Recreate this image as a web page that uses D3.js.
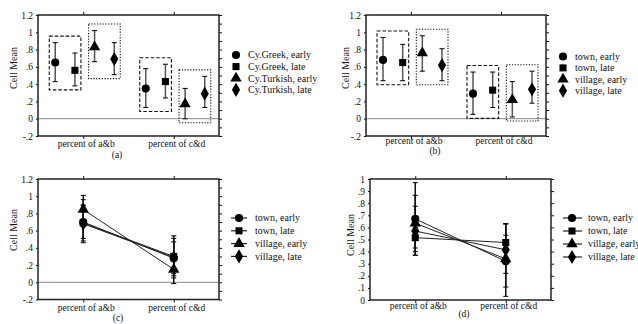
<!DOCTYPE html>
<html><head><meta charset="utf-8">
<script src="https://cdn.jsdelivr.net/npm/d3@7/dist/d3.min.js"></script>
<style>
html,body{margin:0;padding:0;background:#fff;}
svg{display:block;}
svg text{font-family:"Liberation Serif","Times New Roman","DejaVu Serif",serif;}
</style></head>
<body>
<svg id="chart" width="638" height="324"></svg>
<script>
// ---------- data ----------
const categories = ["percent of a&b", "percent of c&d"];
const seriesEthnic = ["Cy.Greek, early", "Cy.Greek, late", "Cy.Turkish, early", "Cy.Turkish, late"];
const seriesPlace = ["town, early", "town, late", "village, early", "village, late"];

// panel (a): means / lower / upper per series, [a&b, c&d]
const meanA = [[0.65, 0.35], [0.56, 0.43], [0.83, 0.17], [0.69, 0.29]];
const lowA  = [[0.43, 0.13], [0.38, 0.24], [0.66, 0.00], [0.51, 0.13]];
const highA = [[0.88, 0.58], [0.76, 0.63], [1.02, 0.35], [0.88, 0.49]];

// panel (b)
const meanB = [[0.68, 0.29], [0.65, 0.33], [0.76, 0.22], [0.62, 0.34]];
const lowB  = [[0.44, 0.05], [0.44, 0.13], [0.55, 0.02], [0.44, 0.18]];
const highB = [[0.94, 0.54], [0.86, 0.54], [0.96, 0.43], [0.81, 0.55]];

// panel (c)
const meanC = [[0.70, 0.28], [0.69, 0.30], [0.845, 0.15], [0.68, 0.29]];
const lowC  = [[0.48, 0.05], [0.51, 0.075], [0.68, -0.015], [0.46, 0.10]];
const highC = [[0.96, 0.54], [0.89, 0.51], [1.01, 0.32], [0.90, 0.47]];

// panel (d)
const meanD = [[0.67, 0.32], [0.515, 0.475], [0.635, 0.34], [0.57, 0.415]];
const lowD  = [[0.37, 0.03], [0.43, 0.32], [0.40, 0.107], [0.37, 0.22]];
const highD = [[0.97, 0.63], [0.60, 0.63], [0.865, 0.535], [0.775, 0.63]];

// tick labels
const tickValsWide = [-0.2, 0, 0.2, 0.4, 0.6, 0.8, 1, 1.2];
const tickLabsWide = ["-.2", "0", ".2", ".4", ".6", ".8", "1", "1.2"];
const minorWide = [-0.2, -0.1, 0, 0.1, 0.2, 0.3, 0.4, 0.5, 0.6, 0.7, 0.8, 0.9, 1, 1.1, 1.2];
const tickValsUnit = [0, 0.1, 0.2, 0.3, 0.4, 0.5, 0.6, 0.7, 0.8, 0.9, 1];
const tickLabsUnit = ["0", ".1", ".2", ".3", ".4", ".5", ".6", ".7", ".8", ".9", "1"];
const yLabel = "Cell Mean";
const panelTags = ["(a)", "(b)", "(c)", "(d)"];

// ---------- layout ----------
const FONT = "Liberation Serif, Times New Roman, DejaVu Serif, serif";
const symbols = [d3.symbolCircle, d3.symbolSquare, d3.symbolTriangle, d3.symbolDiamond];
const symSize = [52, 50, 56, 58];

const panels = [
  {tag: panelTags[0], kind: "box", names: seriesEthnic, mean: meanA, low: lowA, high: highA,
   x0: 38, x1: 219, y0: 15, y1: 136, dom: [-0.2, 1.2], tv: tickValsWide, tl: tickLabsWide, minor: minorWide,
   ylabX: 13, ylabY: 68, tagX: 117, tagY: 157.5, catY: 146.5,
   legX: 236, legTX: 248, legY: 55, legStep: 11.6},
  {tag: panelTags[1], kind: "box", names: seriesPlace, mean: meanB, low: lowB, high: highB,
   x0: 366, x1: 546, y0: 15, y1: 136, dom: [-0.2, 1.2], tv: tickValsWide, tl: tickLabsWide, minor: minorWide,
   ylabX: 345, ylabY: 68, tagX: 435, tagY: 154, catY: 143.5,
   legX: 563, legTX: 575, legY: 56.5, legStep: 11.4},
  {tag: panelTags[2], kind: "line", names: seriesPlace, mean: meanC, low: lowC, high: highC,
   x0: 38, x1: 219, y0: 179, y1: 299.5, dom: [-0.2, 1.2], tv: tickValsWide, tl: tickLabsWide, minor: minorWide,
   ylabX: 13, ylabY: 230, tagX: 118, tagY: 321, catY: 310.5,
   legL0: 231, legL1: 247, legX: 239, legTX: 255, legY: 218, legStep: 12.8},
  {tag: panelTags[3], kind: "line", names: seriesPlace, mean: meanD, low: lowD, high: highD,
   x0: 370, x1: 551, y0: 179, y1: 300, dom: [0, 1], tv: tickValsUnit, tl: tickLabsUnit, minor: tickValsUnit,
   ylabX: 350, ylabY: 235, tagX: 464, tagY: 317, catY: 308.5,
   legL0: 563, legL1: 582, legX: 572, legTX: 588, legY: 218, legStep: 13}
];

const svg = d3.select("#chart");
const ink = "#111";

panels.forEach(p => {
  const g = svg.append("g").attr("font-family", FONT);
  const x = d3.scalePoint().domain(categories).range([p.x0, p.x1]).padding(0.5);
  const y = d3.scaleLinear().domain(p.dom).range([p.y1, p.y0]);
  const off = d3.scalePoint().domain(p.names).range([-28, 31]);

  // zero line
  if (p.dom[0] < 0) {
    g.append("line").attr("x1", p.x0).attr("x2", p.x1).attr("y1", y(0)).attr("y2", y(0))
      .attr("stroke", "#888").attr("stroke-width", 1);
  }

  // axes
  const left = g.append("g").attr("transform", `translate(${p.x0},0)`)
    .call(d3.axisLeft(y).tickValues(p.tv).tickFormat((d, i) => p.tl[i]).tickSize(2).tickPadding(3));
  left.attr("font-family", FONT);
  left.selectAll("text").attr("font-size", 9.5).attr("fill", ink).attr("font-family", FONT);
  const right = g.append("g").attr("transform", `translate(${p.x1},0)`)
    .call(d3.axisRight(y).tickValues(p.minor).tickFormat("").tickSize(3));
  const top = g.append("g").attr("transform", `translate(0,${p.y0})`)
    .call(d3.axisTop(x).tickFormat("").tickSize(3));
  const bottom = g.append("g").attr("transform", `translate(0,${p.y1})`)
    .call(d3.axisBottom(x).tickFormat("").tickSize(3));
  [left, right, top, bottom].forEach(a => {
    a.select(".domain").remove();
    a.selectAll(".tick line").attr("stroke", ink).attr("stroke-width", 1);
  });
  // frame
  g.append("rect").attr("x", p.x0).attr("y", p.y0).attr("width", p.x1 - p.x0).attr("height", p.y1 - p.y0)
    .attr("fill", "none").attr("stroke", "#222").attr("stroke-width", 1.5);

  // category labels
  g.selectAll(".cat").data(categories).enter().append("text")
    .attr("x", d => x(d) + 3).attr("y", p.catY).attr("text-anchor", "middle")
    .attr("font-size", 9.5).attr("font-family", FONT).attr("fill", ink).text(d => d);

  // y label
  g.append("text").attr("transform", `translate(${p.ylabX},${p.ylabY}) rotate(-90)`)
    .attr("text-anchor", "middle").attr("dy", "0.35em").attr("font-size", 10).attr("font-family", FONT)
    .attr("fill", ink).text(yLabel);

  // tag
  g.append("text").attr("x", p.tagX).attr("y", p.tagY).attr("text-anchor", "middle")
    .attr("font-size", 9.5).attr("font-family", FONT).attr("fill", ink).text(p.tag);

  const pts = [];
  p.names.forEach((s, si) => categories.forEach((c, ci) => {
    pts.push({s, si, c, ci, m: p.mean[si][ci], lo: p.low[si][ci], hi: p.high[si][ci],
      px: p.kind === "box" ? x(c) + off(s) : x(c)});
  }));

  if (p.kind === "box") {
    // grouping boxes: pairs (0,1) dashed, (2,3) dotted, per category
    const groups = [];
    categories.forEach((c, ci) => {
      [[0, 1, "3.5,2"], [2, 3, "1.2,1.6"]].forEach(([a, b, dash]) => {
        const sel = pts.filter(d => d.ci === ci && (d.si === a || d.si === b));
        groups.push({
          x0: d3.min(sel, d => d.px) - 6, x1: d3.max(sel, d => d.px) + 6,
          yt: y(d3.max(sel, d => d.hi)) - 6.5, yb: y(d3.min(sel, d => d.lo)) + 4, dash
        });
      });
    });
    g.selectAll(".grp").data(groups).enter().append("rect")
      .attr("x", d => d.x0).attr("y", d => d.yt).attr("width", d => d.x1 - d.x0).attr("height", d => d.yb - d.yt)
      .attr("fill", "none").attr("stroke", ink).attr("stroke-width", 1.1).attr("stroke-dasharray", d => d.dash);
  } else {
    const line = d3.line().x(d => d.px).y(d => y(d.m));
    p.names.forEach((s, si) => {
      g.append("path").datum(pts.filter(d => d.si === si)).attr("d", line)
        .attr("fill", "none").attr("stroke", "#222").attr("stroke-width", 1);
    });
  }

  // error bars
  const eb = g.selectAll(".eb").data(pts).enter().append("g");
  eb.append("line").attr("x1", d => d.px).attr("x2", d => d.px).attr("y1", d => y(d.lo)).attr("y2", d => y(d.hi))
    .attr("stroke", p.kind === "box" ? "#555" : "#111").attr("stroke-width", 1.5);
  eb.append("line").attr("x1", d => d.px - 2.5).attr("x2", d => d.px + 2.5).attr("y1", d => y(d.hi)).attr("y2", d => y(d.hi))
    .attr("stroke", ink).attr("stroke-width", 1.1);
  eb.append("line").attr("x1", d => d.px - 2.5).attr("x2", d => d.px + 2.5).attr("y1", d => y(d.lo)).attr("y2", d => y(d.lo))
    .attr("stroke", ink).attr("stroke-width", 1.1);

  // markers
  g.selectAll(".mk").data(pts).enter().append("path")
    .attr("transform", d => `translate(${d.px},${y(d.m)})`)
    .attr("d", d => d3.symbol().type(symbols[d.si]).size(symSize[d.si])())
    .attr("fill", "#000");

  // legend
  const lg = g.selectAll(".lg").data(p.names).enter().append("g")
    .attr("transform", (d, i) => `translate(0,${p.legY + i * p.legStep})`);
  if (p.kind === "line") {
    lg.append("line").attr("x1", p.legL0).attr("x2", p.legL1).attr("y1", 0).attr("y2", 0)
      .attr("stroke", "#222").attr("stroke-width", 1.2);
  }
  lg.append("path").attr("transform", `translate(${p.legX},0)`)
    .attr("d", (d, i) => d3.symbol().type(symbols[i]).size(symSize[i])()).attr("fill", "#000");
  lg.append("text").attr("x", p.legTX).attr("y", 0).attr("dy", "0.33em")
    .attr("font-size", 10).attr("font-family", FONT).attr("fill", ink).text(d => d);
});
</script>
</body></html>
